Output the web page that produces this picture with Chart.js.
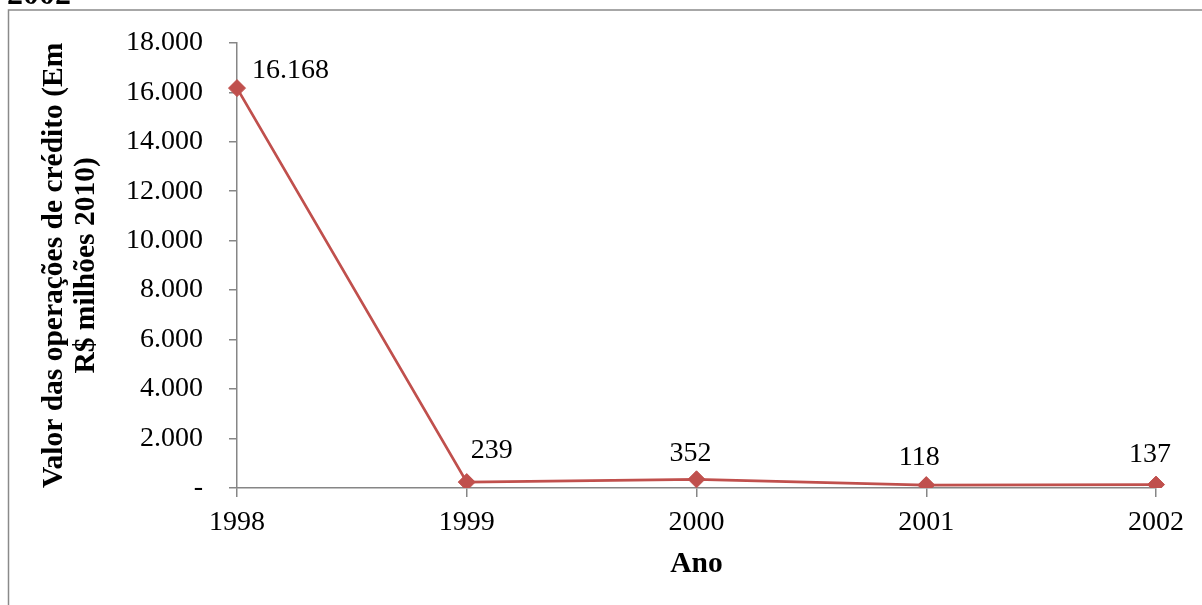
<!DOCTYPE html>
<html>
<head>
<meta charset="utf-8">
<script src="https://cdn.jsdelivr.net/npm/chart.js@4.4.1/dist/chart.umd.min.js"></script>
<style>
  html, body { margin: 0; padding: 0; background: #fff; }
  #wrap { position: relative; width: 1202px; height: 605px; overflow: hidden; }
  canvas { display: block; }
</style>
</head>
<body>
<div id="wrap"><canvas id="c" width="1202" height="605"></canvas></div>
<script>
// Valor das operações de crédito, R$ milhões de 2010
const years = ['1998', '1999', '2000', '2001', '2002'];
const creditValues = [16168, 239, 352, 118, 137];
const valueLabels = ['16.168', '239', '352', '118', '137'];
const yTickLabels = ['-', '2.000', '4.000', '6.000', '8.000', '10.000', '12.000', '14.000', '16.000', '18.000'];

const serif = "'Liberation Serif', 'Times New Roman', serif";
const axisGrey = '#868686';
const lineRed = '#C0504D';
const tickSize = 28;
const titleSize = 29.5;

// label placement relative to each marker: [dx, dy, align]
const labelPlacement = [
  [15, -17, 'left'],
  [25, -31, 'center'],
  [-6, -26, 'center'],
  [-7, -27, 'center'],
  [-6, -30, 'center']
];

const framePlugin = {
  id: 'frame',
  beforeDraw(chart) {
    const ctx = chart.ctx;
    ctx.save();
    ctx.fillStyle = '#fff';
    ctx.fillRect(0, 0, chart.width, chart.height);
    ctx.strokeStyle = '#8a8a8a';
    ctx.lineWidth = 1.5;
    ctx.beginPath();
    ctx.moveTo(8.5, chart.height);
    ctx.lineTo(8.5, 10);
    ctx.lineTo(chart.width, 10);
    ctx.stroke();
    ctx.fillStyle = '#000';
    ctx.font = 'bold 32px ' + serif;
    ctx.textBaseline = 'alphabetic';
    ctx.textAlign = 'left';
    ctx.fillText('2002', 7, 4);
    ctx.restore();
  }
};

const valueLabelPlugin = {
  id: 'valueLabels',
  afterDatasetsDraw(chart) {
    const ctx = chart.ctx;
    const meta = chart.getDatasetMeta(0);
    ctx.save();
    ctx.font = tickSize + 'px ' + serif;
    ctx.fillStyle = '#000';
    ctx.textBaseline = 'middle';
    meta.data.forEach((pt, i) => {
      const [dx, dy, align] = labelPlacement[i];
      ctx.textAlign = align;
      ctx.fillText(valueLabels[i], pt.x + dx, pt.y + dy);
    });
    ctx.restore();
  }
};

new Chart(document.getElementById('c'), {
  type: 'line',
  data: {
    labels: years,
    datasets: [{
      data: creditValues,
      borderColor: lineRed,
      backgroundColor: lineRed,
      borderWidth: 2.75,
      pointStyle: 'rectRot',
      pointRadius: 8.5,
      pointHoverRadius: 8.5,
      pointBackgroundColor: lineRed,
      pointBorderColor: lineRed,
      pointBorderWidth: 1,
      tension: 0,
      fill: false
    }]
  },
  options: {
    responsive: false,
    animation: false,
    events: [],
    layout: { padding: { top: 38, right: 46, bottom: 0, left: 0 } },
    plugins: {
      legend: { display: false },
      tooltip: { enabled: false },
      title: { display: false }
    },
    scales: {
      x: {
        offset: false,
        grid: { drawOnChartArea: false, drawTicks: true, tickLength: 9, color: axisGrey, lineWidth: 1.5 },
        border: { display: true, color: axisGrey, width: 1.5 },
        ticks: { color: '#000', font: { family: serif, size: tickSize }, padding: 9, maxRotation: 0 },
        title: {
          display: true, text: 'Ano', color: '#000',
          font: { family: serif, size: titleSize, weight: 'bold', lineHeight: 1.1 },
          padding: { top: 0, bottom: 24 }
        },
        afterFit(scale) { scale.height = 117; }
      },
      y: {
        min: 0, max: 18000,
        grid: { drawOnChartArea: false, drawTicks: true, tickLength: 8, color: axisGrey, lineWidth: 1.5 },
        border: { display: true, color: axisGrey, width: 1.5 },
        ticks: {
          stepSize: 2000,
          color: '#000',
          font: { family: serif, size: tickSize },
          padding: 26,
          callback: (v) => yTickLabels[Math.round(v / 2000)]
        },
        title: {
          display: true,
          text: ['Valor das operações de crédito (Em', 'R$ milhões 2010)'],
          color: '#000',
          font: { family: serif, size: titleSize, weight: 'bold', lineHeight: 1.1 },
          padding: { top: 38, bottom: 0 }
        },
        afterFit(scale) { scale.width = 237; }
      }
    }
  },
  plugins: [framePlugin, valueLabelPlugin]
});
</script>
</body>
</html>
